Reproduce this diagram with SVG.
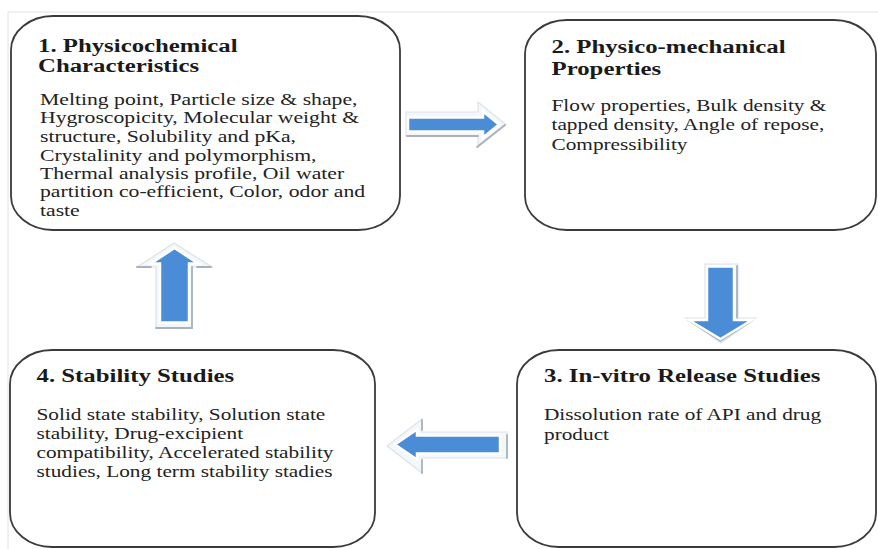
<svg xmlns="http://www.w3.org/2000/svg" width="878" height="549" viewBox="0 0 878 549">
<defs>
<style>
.box{fill:#ffffff;stroke:#3a3a3a;stroke-width:1.8}
.tt{font-family:"Liberation Serif","Times New Roman",serif;font-weight:bold;font-size:24.8px;fill:#1a1a1a}
.bd{font-family:"Liberation Serif","Times New Roman",serif;font-size:21.3px;fill:#222222}
.arr{fill:#4a8dd6;stroke:#ffffff;stroke-width:2.5;stroke-linejoin:miter}
.sh{fill:#f4f7fa;stroke:#dde3e8;stroke-width:1.2;stroke-linejoin:miter}
.shl{fill:none;stroke:#a9b2bb;stroke-width:1.8;stroke-linecap:round}
</style>
</defs>
<rect x="0" y="0" width="878" height="549" fill="#ffffff"/>
<line x1="8" y1="12" x2="878" y2="12" stroke="#e2e2e2" stroke-width="1"/>
<line x1="8" y1="12" x2="8" y2="549" stroke="#e2e2e2" stroke-width="1"/>

<g id="connectors">
  <g id="arrow-1-2">
    <polygon class="sh" points="406,112 478,112 478,102 506,124.5 478,147 478,136 406,136"/>
    <polyline class="shl" points="407,136 478,136"/>
    <polyline class="shl" points="477,147 505,125"/>
    <polygon class="arr" points="408,117.5 483,117.5 483,111.5 499,124.5 483,137.5 483,131.5 408,131.5"/>
  </g>
  <g id="arrow-2-3">
    <polygon class="sh" points="705,264 738,264 738,318 756,318 721,343 686,318 705,318"/>
    <polyline class="shl" points="737,266 737,318"/>
    <polyline class="shl" points="688,320 720.5,341 753,320"/>
    <polygon class="arr" points="707,266.5 734,266.5 734,320 752,320 720.5,339 689,320 707,320"/>
  </g>
  <g id="arrow-3-4">
    <polygon class="sh" points="387,446 422,419 422,432 507,432 507,458 422,458 422,473"/>
    <polyline class="shl" points="422,420 422,430"/>
    <polyline class="shl" points="422,460 422,473"/>
    <polyline class="shl" points="507,435 507,458"/>
    <polygon class="arr" points="395,444.5 417,429.5 417,435.5 500,435.5 500,453.5 417,453.5 417,459.5"/>
  </g>
  <g id="arrow-4-1">
    <polygon class="sh" points="174,243 212,267 192,267 192,328 156,328 156,267 137,267"/>
    <polyline class="shl" points="137,267 151,267"/>
    <polyline class="shl" points="197,267 211,267"/>
    <polyline class="shl" points="192,267 192,328 156,328"/>
    <polygon class="arr" points="174.5,248 198,263.5 189,263.5 189,322.5 160,322.5 160,263.5 151,263.5"/>
  </g>
</g>

<g id="node1">
  <rect class="box" x="11" y="16" width="389" height="214" rx="42" ry="34"/>
  <text class="tt" transform="translate(38,51.5) scale(1,0.76)"><tspan x="0" y="0">1. Physicochemical</tspan><tspan x="0" y="27.6">Characteristics</tspan></text>
  <text class="bd" style="font-size:21.7px" transform="translate(40,105) scale(1,0.8)"><tspan x="0" y="0">Melting point, Particle size &amp; shape,</tspan><tspan x="0" y="23.1">Hygroscopicity, Molecular weight &amp;</tspan><tspan x="0" y="46.2">structure, Solubility and pKa,</tspan><tspan x="0" y="69.4">Crystalinity and polymorphism,</tspan><tspan x="0" y="92.5">Thermal analysis profile, Oil water</tspan><tspan x="0" y="115.6">partition co-efficient, Color, odor and</tspan><tspan x="0" y="138.7">taste</tspan></text>
</g>

<g id="node2">
  <rect class="box" x="525" y="20" width="351" height="210" rx="42" ry="34"/>
  <text class="tt" transform="translate(551.5,53) scale(1,0.76)"><tspan x="0" y="0">2. Physico-mechanical</tspan><tspan x="0" y="28.5">Properties</tspan></text>
  <text class="bd" transform="translate(551.5,110.5) scale(1,0.8)"><tspan x="0" y="0">Flow properties, Bulk density &amp;</tspan><tspan x="0" y="24.6">tapped density, Angle of repose,</tspan><tspan x="0" y="49.2">Compressibility</tspan></text>
</g>

<g id="node3">
  <rect class="box" x="517" y="350" width="359" height="197" rx="42" ry="34"/>
  <text class="tt" transform="translate(544,382) scale(1,0.76)">3. In-vitro Release Studies</text>
  <text class="bd" transform="translate(544,420) scale(1,0.8)"><tspan x="0" y="0">Dissolution rate of API and drug</tspan><tspan x="0" y="24.6">product</tspan></text>
</g>

<g id="node4">
  <rect class="box" x="10" y="350" width="365" height="197" rx="42" ry="34"/>
  <text class="tt" transform="translate(36.5,382) scale(1,0.76)">4. Stability Studies</text>
  <text class="bd" transform="translate(36.5,420) scale(1,0.8)"><tspan x="0" y="0">Solid state stability, Solution state</tspan><tspan x="0" y="23.8">stability, Drug-excipient</tspan><tspan x="0" y="47.6">compatibility, Accelerated stability</tspan><tspan x="0" y="71.4">studies, Long term stability stadies</tspan></text>
</g>
</svg>
